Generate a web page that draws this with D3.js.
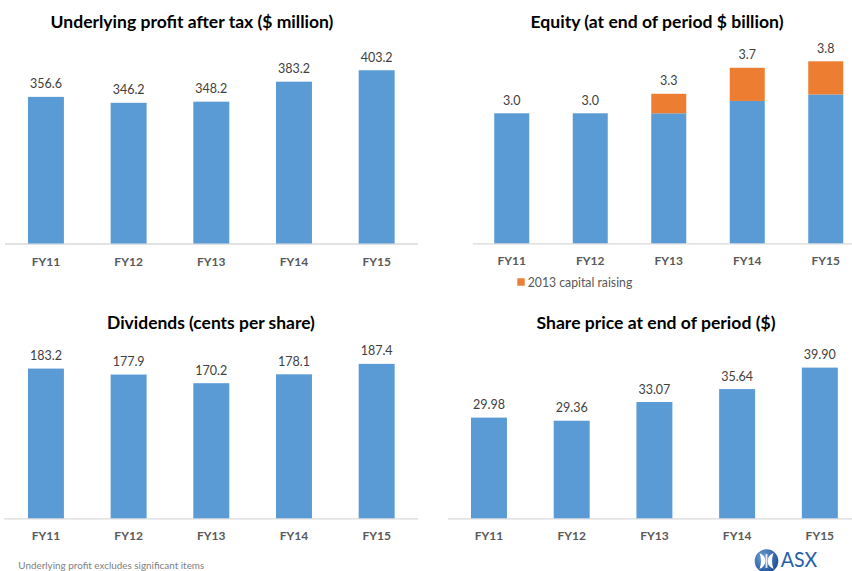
<!DOCTYPE html>
<html><head><meta charset="utf-8">
<script src="https://cdn.jsdelivr.net/npm/d3@7"></script>
<style>
body{margin:0;background:#fff}
svg{display:block}
text{font-family:Lato,"Open Sans",sans-serif}
</style>
</head><body>
<svg id="chart" width="852" height="571"></svg>
<script>
// ---------- data ----------
const categories = ["FY11", "FY12", "FY13", "FY14", "FY15"];
const profitValues = [356.6, 346.2, 348.2, 383.2, 403.2];
const equityBase = [3.0, 3.0, 3.0, 3.19, 3.29];
const equityRaising = [0, 0, 0.3, 0.51, 0.51];
const dividendValues = [183.2, 177.9, 170.2, 178.1, 187.4];
const sharePriceValues = [29.98, 29.36, 33.07, 35.64, 39.90];
const panelTitles = [
  "Underlying profit after tax ($ million)",
  "Equity (at end of period $ billion)",
  "Dividends (cents per share)",
  "Share price at end of period ($)"
];
const legendLabel = "2013 capital raising";
const footnote = "Underlying profit excludes significant items";

// ---------- styles ----------
const BLUE = "#5b9bd5", ORANGE = "#ed7d31", AXIS = "#d9d9d9";
const svg = d3.select("#chart");

function fitWidth(sel, w) {
  const node = sel.node();
  const fs = parseFloat(sel.attr("font-size"));
  const len = node.getComputedTextLength();
  if (len > 0) sel.attr("font-size", (fs * w / len).toFixed(2));
}
function squeeze(sel, w) {
  const len = sel.node().getComputedTextLength();
  if (len > w) sel.attr("textLength", w).attr("lengthAdjust", "spacingAndGlyphs");
  else fitWidth(sel, w);
}

function panel(o) {
  const g = svg.append("g");
  const x = d3.scaleBand().domain(categories).range(o.xRange)
    .paddingInner(o.pad).paddingOuter(o.pad / 2);
  const y = d3.scaleLinear().domain(o.yDomain).range([o.base, o.top]);

  // title
  const t = g.append("text").attr("x", o.titleX).attr("y", o.titleY)
    .attr("text-anchor", "middle").attr("font-weight", "bold")
    .attr("font-size", 16.5).attr("fill", "#000").text(o.title);
  squeeze(t, o.titleW);

  // axis line
  g.append("line").attr("x1", o.lineX[0]).attr("x2", o.lineX[1])
    .attr("y1", o.base + 0.5).attr("y2", o.base + 0.5)
    .attr("stroke", AXIS).attr("stroke-width", 1.3);

  // bars (stacked series; first layer starts at the axis minimum)
  const rows = categories.map((c, j) => {
    const r = {cat: c};
    o.series.forEach((s, i) => r["s" + i] = s.values[j]);
    return r;
  });
  const layers = d3.stack().keys(o.series.map((s, i) => "s" + i))(rows);
  layers.forEach((layer, i) => {
    g.append("g").attr("fill", o.series[i].color)
      .selectAll("rect").data(layer).join("rect")
      .attr("x", d => x(d.data.cat))
      .attr("width", x.bandwidth())
      .attr("y", d => y(d[1]))
      .attr("height", d => Math.max(0, (i === 0 ? o.base : y(d[0])) - y(d[1])));
  });

  // value labels (stack totals)
  const totals = rows.map(r => d3.sum(o.series, (s, i) => r["s" + i]));
  g.append("g").selectAll("text").data(categories).join("text")
    .attr("x", c => x(c) + x.bandwidth() / 2)
    .attr("y", (c, j) => y(totals[j]) - 8.5)
    .attr("text-anchor", "middle").attr("font-size", 12.5).attr("fill", "#404040")
    .text((c, j) => d3.format(o.fmt)(totals[j]));

  // category axis
  const ax = g.append("g").attr("transform", `translate(0,${o.base})`)
    .call(d3.axisBottom(x).tickSize(0).tickPadding(13.5));
  ax.select(".domain").remove();
  ax.selectAll("text").attr("font-family", "Lato, 'Open Sans', sans-serif")
    .attr("font-size", 12).attr("font-weight", "bold").attr("fill", "#595959");
  return {g, x, y};
}

panel({title: panelTitles[0], titleX: 192, titleY: 28, titleW: 283,
  xRange: [4.6, 418], pad: 0.565, yDomain: [100, 450], base: 243.5, top: 43.5,
  lineX: [5, 418], fmt: ".1f", series: [{values: profitValues, color: BLUE}]});

panel({title: panelTitles[1], titleX: 657, titleY: 28, titleW: 253,
  xRange: [472.5, 865], pad: 0.554, yDomain: [1, 4], base: 243.3, top: 48.3,
  lineX: [473, 852], fmt: ".1f",
  series: [{values: equityBase, color: BLUE}, {values: equityRaising, color: ORANGE}]});

panel({title: panelTitles[2], titleX: 211, titleY: 329, titleW: 208,
  xRange: [4.6, 418], pad: 0.565, yDomain: [50, 200], base: 518.3, top: 349.7,
  lineX: [4, 418], fmt: ".1f", series: [{values: dividendValues, color: BLUE}]});

panel({title: panelTitles[3], titleX: 656, titleY: 329, titleW: 239,
  xRange: [447.6, 861.2], pad: 0.565, yDomain: [10, 45], base: 518.3, top: 341.9,
  lineX: [448, 852], fmt: ".2f", series: [{values: sharePriceValues, color: BLUE}]});

// legend
const lg = svg.append("g");
lg.append("rect").attr("x", 517.3).attr("y", 278.3).attr("width", 7.4).attr("height", 7.4).attr("fill", ORANGE);
const lt = lg.append("text").attr("x", 527.7).attr("y", 286.6).attr("font-size", 12.5)
  .attr("fill", "#595959").text(legendLabel);
squeeze(lt, 104.6);

// footnote
const ft = svg.append("text").attr("x", 18.3).attr("y", 569).attr("font-size", 9.8)
  .attr("fill", "#808080").text(footnote);
squeeze(ft, 186);

// ASX logo
const defs = svg.append("defs");
const rg = defs.append("radialGradient").attr("id", "asxg").attr("cx", "35%").attr("cy", "35%").attr("r", "70%");
rg.append("stop").attr("offset", "0%").attr("stop-color", "#6fa0d8");
rg.append("stop").attr("offset", "100%").attr("stop-color", "#1d4f95");
const lx = 766.5, ly = 561;
const logo = svg.append("g");
logo.append("circle").attr("cx", lx).attr("cy", ly).attr("r", 11.8).attr("fill", "url(#asxg)");
logo.append("path").attr("fill", "#fff")
  .attr("d", `M${lx-7},${ly-8} Q${lx-1},${ly-5} ${lx-1.2},${ly} Q${lx-1},${ly+5} ${lx-7},${ly+8} Q${lx-4},${ly} ${lx-7},${ly-8}Z
             M${lx+7},${ly-8} Q${lx+1},${ly-5} ${lx+1.2},${ly} Q${lx+1},${ly+5} ${lx+7},${ly+8} Q${lx+4},${ly} ${lx+7},${ly-8}Z`);
logo.append("rect").attr("x", lx - 0.9).attr("y", ly - 7).attr("width", 1.8).attr("height", 14).attr("fill", "#fff").attr("opacity", 0.85);
const at = logo.append("text").attr("x", 780.7).attr("y", 567).attr("font-size", 21)
  .attr("font-family", "'Liberation Sans', Arial, sans-serif").attr("fill", "#2561a8").text("ASX");
squeeze(at, 36.5);
</script>
</body></html>
